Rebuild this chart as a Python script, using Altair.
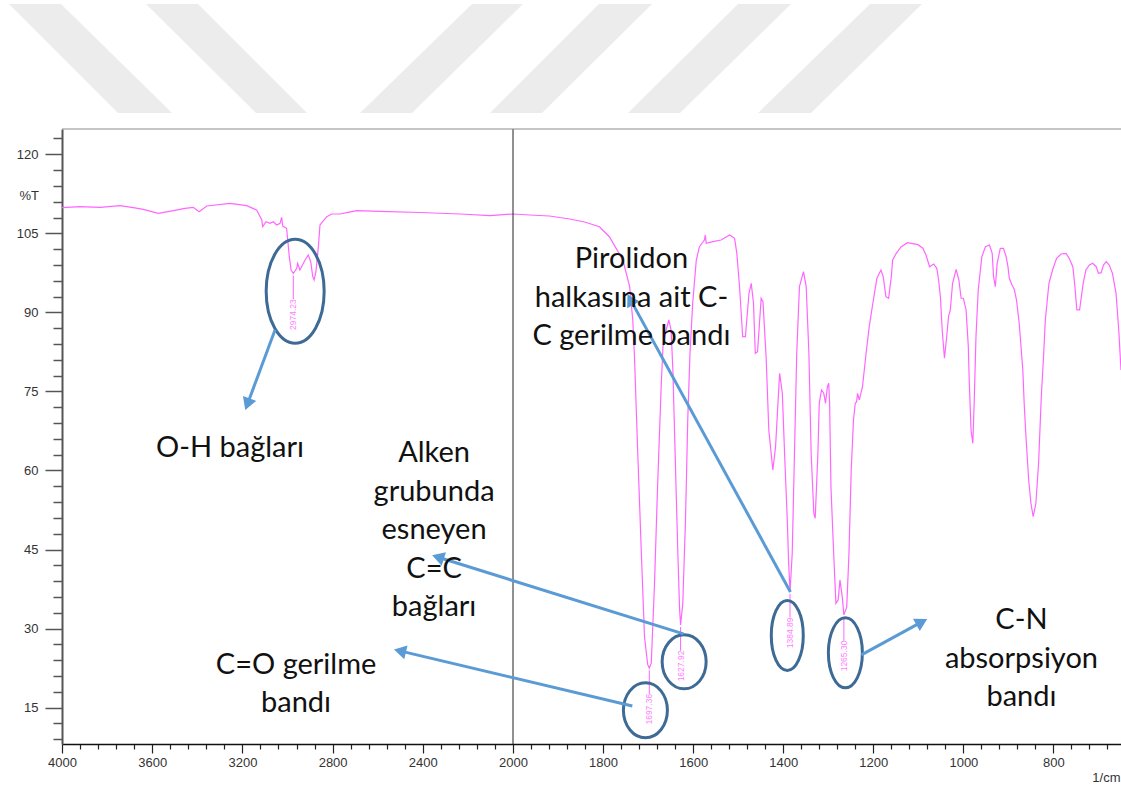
import math
import altair as alt
import pandas as pd

# ---- FTIR spectrum: wavenumber (1/cm) and transmittance (%T) ----
wavenumber = [
    4000, 3920, 3831, 3743, 3684, 3639, 3573, 3506, 3455, 3418, 3392, 3358,
    3255, 3181, 3137, 3114, 3110, 3095, 3078, 3063, 3048, 3033, 3026, 3021,
    3004, 2992, 2984, 2974.23, 2959, 2955, 2945, 2922, 2908, 2897, 2888, 2882,
    2874, 2863, 2856, 2844, 2826, 2804, 2767, 2737, 2693, 2590, 2412, 2235,
    2102, 2000,
    1963, 1919, 1874, 1841, 1808, 1786, 1756, 1741, 1734, 1730, 1723, 1715,
    1708, 1701, 1697.36, 1693, 1686, 1679, 1671, 1667, 1660, 1654, 1649, 1645,
    1639, 1634, 1630, 1627.92, 1623, 1617, 1612, 1607, 1601, 1593, 1586, 1575,
    1573, 1571, 1556, 1538, 1519, 1508, 1503, 1497, 1490, 1484, 1476, 1471,
    1466, 1462, 1457, 1449, 1445, 1438, 1432, 1423, 1417, 1408, 1402, 1397,
    1391, 1388, 1384.89, 1380, 1375, 1370, 1364, 1358, 1355, 1349, 1343, 1338,
    1332, 1329, 1323, 1320, 1315, 1310, 1306, 1302, 1299, 1297, 1294, 1288,
    1283, 1278, 1274, 1269, 1265.30, 1259, 1254, 1249, 1244, 1240, 1237, 1235,
    1231, 1224, 1216, 1209, 1201, 1192, 1183, 1178, 1172, 1166, 1160, 1157,
    1149, 1138, 1124, 1101, 1090, 1083, 1075, 1066, 1059, 1055, 1051, 1047,
    1042, 1037, 1033, 1029, 1024, 1016, 1010, 1005, 1000, 994, 989, 987,
    983, 979, 976, 972, 967, 959, 951, 942, 936, 933, 929, 925,
    918, 911, 905, 901, 898, 892, 887, 882, 876, 872, 868, 865,
    861, 855, 850, 845, 839, 833, 827, 822, 818, 810, 802, 793,
    783, 772, 765, 757, 753, 748, 742, 738, 734, 728, 720, 713,
    705, 700, 694, 689, 683, 676, 669, 661, 655, 650,
]
transmittance = [
    109.87, 110.06, 109.94, 110.25, 109.87, 109.56, 108.80, 109.30, 109.75, 109.94, 109.11, 110.19,
    110.70, 110.25, 109.43, 107.53, 106.26, 107.21, 106.91, 107.21, 106.58, 106.91, 108.04, 106.39,
    105.96, 100.57, 98.05, 97.38, 98.37, 99.31, 98.05, 99.94, 100.89, 99.62, 96.77, 96.15,
    97.72, 102.47, 106.58, 107.21, 108.16, 108.67, 108.67, 108.92, 109.30, 109.15, 108.96, 108.67,
    108.38, 108.67,
    108.48, 108.29, 107.72, 107.15, 106.26, 104.36, 99.94, 94.88, 88.56, 80.97, 63.32, 44.35,
    28.46, 23.20, 22.50, 23.47, 37.95, 56.93, 75.90, 83.49, 86.66, 88.56, 86.66, 79.07,
    60.09, 44.29, 33.50, 30.70, 34.80, 50.60, 69.58, 82.29, 91.78, 99.94, 102.47, 103.74,
    104.69, 103.11, 103.42, 103.74, 104.69, 104.06, 101.21, 94.88, 85.39, 85.39, 93.62, 95.52,
    91.73, 82.24, 82.54, 92.67, 92.03, 81.59, 67.68, 60.09, 64.52, 78.45, 74.65, 63.27,
    50.61, 42.50, 37.00, 44.29, 63.27, 82.24, 94.88, 96.78, 97.72, 94.88, 82.24, 63.27,
    51.88, 50.93, 63.27, 72.75, 75.28, 74.65, 72.75, 75.90, 76.54, 72.75, 56.93, 44.29,
    34.80, 35.43, 39.23, 36.06, 32.60, 34.08, 44.29, 60.09, 69.58, 72.75, 73.06, 74.63,
    73.38, 75.90, 82.24, 87.29, 91.73, 96.47, 98.04, 96.78, 92.98, 92.68, 96.78, 99.94,
    101.22, 102.47, 103.22, 102.85, 102.17, 100.89, 98.67, 99.18, 98.37, 96.15, 92.98, 86.66,
    81.29, 85.39, 89.19, 90.46, 95.52, 98.18, 96.15, 92.68, 92.68, 90.46, 83.49, 77.17,
    67.69, 65.16, 72.75, 85.39, 94.25, 100.57, 102.47, 102.79, 101.21, 96.78, 94.88, 99.31,
    102.15, 102.15, 100.57, 98.67, 96.47, 95.20, 94.38, 92.35, 87.93, 83.49, 79.07, 72.75,
    66.41, 58.20, 53.78, 51.23, 53.78, 61.37, 74.00, 81.60, 88.56, 95.52, 98.04, 100.26,
    101.08, 101.20, 100.26, 98.67, 95.52, 90.46, 90.46, 92.98, 95.52, 98.04, 98.99, 99.31,
    98.67, 97.42, 97.53, 98.99, 99.62, 98.99, 97.42, 93.62, 86.66, 79.07,
]

# ---- labelled band minima ----
peak_wn = [2974.23, 1697.36, 1627.92, 1384.89, 1265.30]
peak_t = [97.38, 22.50, 30.70, 37.00, 32.60]
peak_text = ["2974.23", "1697.36", "1627.92", "1384.89", "1265.30"]

# ---- annotations (wavenumber, %T) ----
ring_wn = [2966, 1706, 1620, 1391, 1262]
ring_t = [94.0, 14.5, 23.7, 28.7, 25.4]
ring_rx = [29, 22, 22, 16, 17]
ring_ry = [52, 27.5, 27, 35, 35]

arrow_from_wn = [3055, 1735, 1621.5, 1384, 1226.4]
arrow_from_t = [86.7, 15.3, 29.0, 36.95, 25.0]
arrow_to_wn = [3184, 2519, 2350, 1743.6, 1084.4]
arrow_to_t = [71.86, 25.94, 43.78, 93.11, 31.63]

note_wn = [3255, 1737, 2350, 2962, 871]
note_t = [64.3, 100.1, 63.3, 23.1, 31.6]
note_text = [
    "O-H bağları",
    "Pirolidon\nhalkasına ait C-\nC gerilme bandı",
    "Alken\ngrubunda\nesneyen\nC=C\nbağları",
    "C=O gerilme\nbandı",
    "C-N\nabsorpsiyon\nbandı",
]

# ---- faint background stripes (page pixels: top x1, top x2, bottom x1, bottom x2) ----
stripe_top_y, stripe_bottom_y = 4, 113
stripes = [
    (9, 61, 118, 172), (146, 198, 256, 307), (472, 523, 360, 412),
    (599, 652, 490, 542), (738, 791, 628, 680), (870, 922, 758, 811),
]

# ---- layout ----
PAGE_W, PAGE_H = 1121, 787
PAD_L, PAD_T, PAD_B = 62, 129, 43
PLOT_W, PLOT_H = PAGE_W - PAD_L, PAGE_H - PAD_T - PAD_B
X_DOMAIN = [4000, 2000, 650]
X_RANGE = [0, 451, PLOT_W]
Y_DOMAIN = [8.1, 124.8]
AXIS_FONT = "Liberation Sans"
AXIS_SIZE = 13


def to_px(wn, t):
    if wn >= 2000:
        x = (4000 - wn) / 2000 * X_RANGE[1]
    else:
        x = X_RANGE[1] + (2000 - wn) / 1350 * (X_RANGE[2] - X_RANGE[1])
    y = (Y_DOMAIN[1] - t) / (Y_DOMAIN[1] - Y_DOMAIN[0]) * PLOT_H
    return x, y


def from_px(x, y):
    if x <= X_RANGE[1]:
        wn = 4000 - x / X_RANGE[1] * 2000
    else:
        wn = 2000 - (x - X_RANGE[1]) / (X_RANGE[2] - X_RANGE[1]) * 1350
    t = Y_DOMAIN[1] - y / PLOT_H * (Y_DOMAIN[1] - Y_DOMAIN[0])
    return wn, t


x_scale = alt.Scale(domain=X_DOMAIN, range=X_RANGE, nice=False, zero=False)
y_scale = alt.Scale(domain=Y_DOMAIN, nice=False, zero=False)

x_ticks = list(range(4000, 1999, -80)) + list(range(1960, 679, -40))
y_ticks = list(range(9, 124, 3))
x_major = "(datum.value >= 2000 ? datum.value % 400 == 0 : datum.value % 200 == 0)"
y_major = "datum.value % 15 == 0"

x_axis = alt.Axis(
    orient="bottom", values=x_ticks, format="d", grid=False,
    labelExpr=f"{x_major} ? datum.label : ''",
    tickSize={"condition": {"test": x_major, "value": 9}, "value": 5},
    labelPadding=3, labelFlush=False,
    domainColor="#111", domainWidth=1.5, tickColor="#222", tickWidth=1.2,
    title="1/cm", titleX=PLOT_W - 1, titleY=33, titleAlign="right",
    titleBaseline="middle", titleFontWeight="normal",
)
y_axis = alt.Axis(
    orient="left", values=y_ticks, format="d", grid=False,
    labelExpr=f"{y_major} ? datum.label : ''",
    tickSize={"condition": {"test": y_major, "value": 17}, "value": 9},
    labelPadding=7,
    domainColor="#555", domainWidth=2, tickColor="#555", tickWidth=1.5,
    title="%T", titleAngle=0, titleX=-43, titleY=66, titleAlign="left",
    titleBaseline="middle", titleFontWeight="normal",
)


def X(field):
    return alt.X(field, type="quantitative", scale=x_scale, axis=x_axis)


def Y(field):
    return alt.Y(field, type="quantitative", scale=y_scale, axis=y_axis)


# background stripes, converted from page pixels into the plot's data units
stripe_rows = []
for k, (a1, a2, b1, b2) in enumerate(stripes):
    for py, xa, xb in ((stripe_top_y, a1, a2), (stripe_bottom_y, b1, b2)):
        wa, t = from_px(xa - PAD_L, py - PAD_T)
        wb, _ = from_px(xb - PAD_L, py - PAD_T)
        stripe_rows.append({"s": k, "T": t, "wn": wa, "wn2": wb})
watermark = alt.Chart(pd.DataFrame(stripe_rows)).mark_area(
    orient="horizontal", color="#ececec", opacity=1
).encode(y=Y("T"), x=X("wn"), x2="wn2", detail="s:N")

spec_df = pd.DataFrame({"wn": wavenumber, "T": transmittance, "i": range(len(wavenumber))})
spectrum = alt.Chart(spec_df).mark_line(color="#ff66ff", strokeWidth=1.2).encode(
    x=X("wn"), y=Y("T"), order="i:Q",
)

# scale break at 2000 1/cm
break_line = alt.Chart(pd.DataFrame({"wn": [2000]})).mark_rule(
    color="#222", strokeWidth=1
).encode(x=X("wn"))

top_frame = alt.Chart(pd.DataFrame({"k": [0]})).mark_rule(
    color="#8a8a8a", strokeWidth=1
).encode(x=alt.value(0), x2=alt.value(PLOT_W), y=alt.value(0))

peaks_df = pd.DataFrame({"wn": peak_wn, "T": peak_t, "label": peak_text})
peaks_df["t_top"] = peaks_df["T"] - 0.4
peaks_df["t_bot"] = peaks_df["T"] - 4.9
peaks_df["t_txt"] = peaks_df["T"] - 7.8
peak_ticks = alt.Chart(peaks_df).mark_rule(color="#ff66ff", strokeWidth=1).encode(
    x=X("wn"), y=Y("t_top"), y2="t_bot"
)
peak_labels = alt.Chart(peaks_df).mark_text(
    angle=270, font="Liberation Sans", fontSize=8.5, color="#ff80ff",
    align="center", baseline="middle",
).encode(x=X("wn"), y=Y("t_txt"), text="label:N")

ring_df = pd.DataFrame({"wn": ring_wn, "T": ring_t})
ring_df["path"] = [
    f"M{-a},0A{a},{b},0,1,0,{a},0A{a},{b},0,1,0,{-a},0Z"
    for a, b in zip(ring_rx, ring_ry)
]
rings = alt.Chart(ring_df).mark_point(
    filled=False, stroke="#3e6a96", strokeWidth=3, opacity=1, size=4
).encode(x=X("wn"), y=Y("T"), shape=alt.Shape("path:N", scale=None))

# arrows: shaft to the head centre, triangular head rotated along the shaft
HEAD_SIZE = 200
head_back = math.sqrt(3) * (math.sqrt(HEAD_SIZE) / 2) / 2
rows = []
for w0, t0, w1, t1 in zip(arrow_from_wn, arrow_from_t, arrow_to_wn, arrow_to_t):
    x0, y0 = to_px(w0, t0)
    x1, y1 = to_px(w1, t1)
    d = math.hypot(x1 - x0, y1 - y0)
    ux, uy = (x1 - x0) / d, (y1 - y0) / d
    hw, ht = from_px(x1 - ux * head_back, y1 - uy * head_back)
    rows.append({
        "wn": w0, "T": t0, "wn2": hw, "T2": ht,
        "ang": math.degrees(math.atan2(ux, -uy)) % 360,
    })
arrow_df = pd.DataFrame(rows)
shafts = alt.Chart(arrow_df).mark_rule(color="#5b9bd5", strokeWidth=3).encode(
    x=X("wn"), y=Y("T"), x2="wn2", y2="T2"
)
heads = alt.Chart(arrow_df).mark_point(
    shape="triangle", filled=True, color="#5b9bd5", opacity=1, size=HEAD_SIZE
).encode(x=X("wn2"), y=Y("T2"), angle=alt.Angle("ang:Q", scale=None))

notes_df = pd.DataFrame({"wn": note_wn, "T": note_t, "text": note_text})
notes = alt.Chart(notes_df).mark_text(
    font="Lato", fontSize=29, color="#111", align="center", baseline="middle",
    lineBreak="\n", lineHeight=38.5,
).encode(x=X("wn"), y=Y("T"), text="text:N")

chart = alt.layer(
    watermark, spectrum, break_line, top_frame, peak_ticks, peak_labels,
    rings, shafts, heads, notes,
).properties(
    width=PLOT_W, height=PLOT_H,
    padding={"left": PAD_L, "top": PAD_T, "right": 0, "bottom": PAD_B},
    autosize=alt.AutoSizeParams(type="none"),
    background="white",
).configure_view(strokeWidth=0).configure_axis(
    labelFont=AXIS_FONT, labelFontSize=AXIS_SIZE, labelColor="#333",
    titleFont=AXIS_FONT, titleFontSize=AXIS_SIZE, titleColor="#333",
)

chart.save("out.html", embed_options={"renderer": "svg", "actions": False})
